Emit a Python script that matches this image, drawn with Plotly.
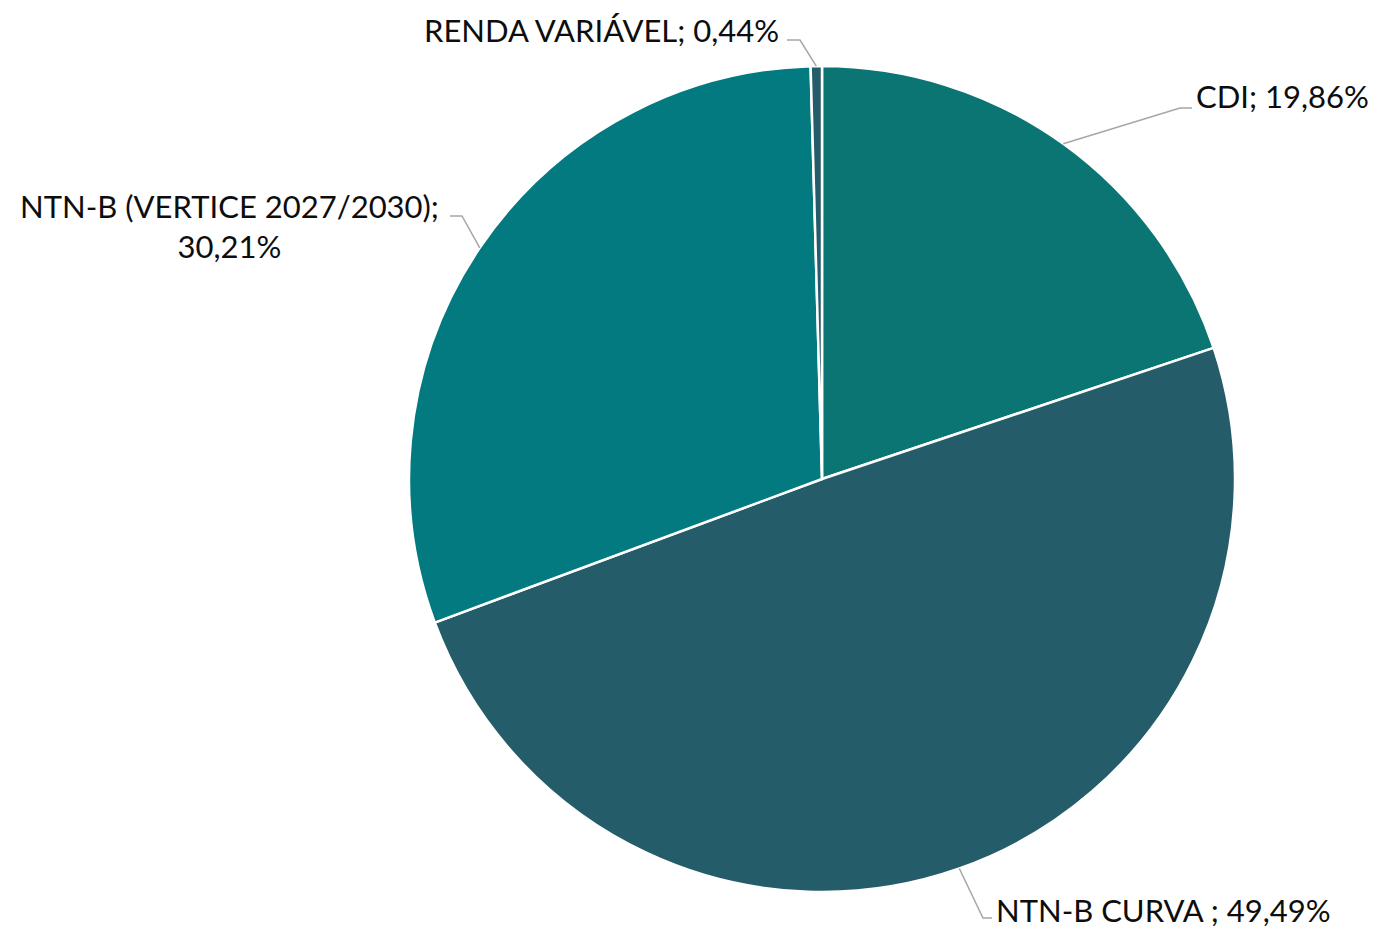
import math
import plotly.graph_objects as go

categories = ["CDI", "NTN-B CURVA ", "NTN-B (VERTICE 2027/2030)", "RENDA VARIÁVEL"]
values = [19.86, 49.49, 30.21, 0.44]
value_labels = ["19,86%", "49,49%", "30,21%", "0,44%"]
colors = ["#0a7572", "#255c6a", "#027a80", "#255c6a"]

W, H = 1377, 929
cx, cy, R = 822, 479, 413

fig = go.Figure(go.Pie(
    labels=categories, values=values, sort=False, direction="clockwise", rotation=0,
    marker=dict(colors=colors, line=dict(color="white", width=2.5)),
    textinfo="none", hoverinfo="label+percent", showlegend=False,
    domain=dict(x=[(cx - R) / W, (cx + R) / W], y=[(H - cy - R) / H, (H - cy + R) / H]),
))

def px(x):
    return x / W

def py(y):
    return 1 - y / H

# label layout in pixels: (elbow point, end point, text anchor pos, xanchor, text)
label_layout = [
    ((1180, 108), (1192, 108), (1194, 96), "left", "CDI; 19,86%"),
    ((983, 918), (992, 918), (994, 910), "left", "NTN-B CURVA ; 49,49%"),
    ((462, 216), (450, 216), (229, 226), "center", "NTN-B (VERTICE 2027/2030);<br>30,21%"),
    ((800, 40), (787, 40), (781, 30), "right", "RENDA VARIÁVEL; 0,44%"),
]

total = sum(values)
cum = 0
shapes = []
annotations = []
for v, (elbow, end, tpos, anchor, text) in zip(values, label_layout):
    mid = (cum + v / 2) / total * 2 * math.pi
    cum += v
    sx = cx + R * math.sin(mid)
    sy = cy - R * math.cos(mid)
    path = f"M {px(sx)} {py(sy)} L {px(elbow[0])} {py(elbow[1])} L {px(end[0])} {py(end[1])}"
    shapes.append(dict(type="path", xref="paper", yref="paper", path=path,
                       line=dict(color="#a6a6a6", width=1.5)))
    annotations.append(dict(x=px(tpos[0]), y=py(tpos[1]), xref="paper", yref="paper",
                            text=text, showarrow=False, xanchor=anchor, yanchor="middle",
                            align="center", font=dict(family="Lato", size=31, color="#0d0d0d")))

fig.update_layout(
    width=W, height=H, margin=dict(l=0, r=0, t=0, b=0),
    paper_bgcolor="white", plot_bgcolor="white",
    shapes=shapes, annotations=annotations,
)
fig.write_html("out.html", config={"displayModeBar": False},
               post_script="document.body.style.margin='0';document.body.style.overflow='hidden';")
